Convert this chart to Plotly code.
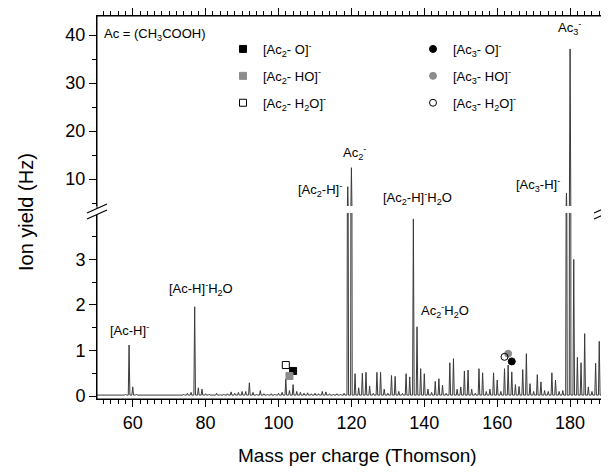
import plotly.graph_objects as go

# ---------------- data ----------------
mz = list(range(50, 190))
intensity = [
    0.03, 0.02, 0.03, 0.02, 0.03, 0.02, 0.03, 0.02, 0.04, 1.12,   # 50-59
    0.20, 0.04, 0.03, 0.02, 0.03, 0.02, 0.02, 0.03, 0.02, 0.03,   # 60-69
    0.02, 0.03, 0.02, 0.03, 0.04, 0.06, 0.08, 1.96, 0.18, 0.15,   # 70-79
    0.05, 0.04, 0.03, 0.06, 0.03, 0.04, 0.05, 0.09, 0.06, 0.08,   # 80-89
    0.10, 0.10, 0.29, 0.08, 0.04, 0.12, 0.05, 0.04, 0.05, 0.04,   # 90-99
    0.06, 0.08, 0.37, 0.12, 0.25, 0.10, 0.08, 0.06, 0.07, 0.05,   # 100-109
    0.06, 0.05, 0.10, 0.09, 0.05, 0.04, 0.05, 0.04, 0.06, 8.40,   # 110-119
    12.35, 0.49, 0.18, 0.50, 0.52, 0.22, 0.06, 0.52, 0.52, 0.15,  # 120-129
    0.06, 0.45, 0.43, 0.10, 0.06, 0.49, 0.42, 3.89, 1.52, 0.60,   # 130-139
    0.49, 0.15, 0.08, 0.32, 0.38, 0.24, 0.06, 0.73, 0.82, 0.15,   # 140-149
    0.20, 0.55, 0.57, 0.15, 0.06, 0.60, 0.51, 0.10, 0.15, 0.51,   # 150-159
    0.35, 0.10, 0.60, 0.68, 0.53, 0.25, 0.21, 0.58, 0.93, 0.27,   # 160-169
    0.10, 0.47, 0.31, 0.12, 0.10, 0.51, 0.35, 0.10, 0.12, 7.10,   # 170-179
    37.1, 3.00, 0.85, 0.73, 1.37, 0.20, 0.10, 0.72, 1.20, 0.25,   # 180-189
]
baseline = 0.02
peak_halfwidth = 0.22

# fragment markers
ac2_names = ["[Ac<sub>2</sub>- O]<sup>-</sup>", "[Ac<sub>2</sub>- HO]<sup>-</sup>", "[Ac<sub>2</sub>- H<sub>2</sub>O]<sup>-</sup>"]
ac2_mz = [104, 103, 102]
ac2_val = [0.55, 0.44, 0.68]
ac3_names = ["[Ac<sub>3</sub>- O]<sup>-</sup>", "[Ac<sub>3</sub>- HO]<sup>-</sup>", "[Ac<sub>3</sub>- H<sub>2</sub>O]<sup>-</sup>"]
ac3_mz = [164, 163, 162]
ac3_val = [0.76, 0.93, 0.86]

# peak labels: (text, label centre m/z, label centre value, axis)
labels = [
    ("[Ac-H]<sup>-</sup>", 59.0, 1.45, "y"),
    ("[Ac-H]<sup>-</sup>H<sub>2</sub>O", 78.7, 2.35, "y"),
    ("[Ac<sub>2</sub>-H]<sup>-</sup>", 111.3, 7.7, "y2"),
    ("Ac<sub>2</sub><sup>-</sup>", 120.8, 15.4, "y2"),
    ("[Ac<sub>2</sub>-H]<sup>-</sup>H<sub>2</sub>O", 138.2, 6.0, "y2"),
    ("Ac<sub>2</sub><sup>-</sup>H<sub>2</sub>O", 145.7, 1.87, "y"),
    ("[Ac<sub>3</sub>-H]<sup>-</sup>", 171.2, 8.75, "y2"),
    ("Ac<sub>3</sub><sup>-</sup>", 179.7, 41.5, "y2"),
]

# ---------------- geometry ----------------
OFF = 8                      # page body margin of the browser
W, H = 609 - OFF, 473 - OFF
ML, MR, MT, MB = 97 - OFF, 5, 16 - OFF, 74
PW, PH = W - ML - MR, H - MT - MB
def px2paper_x(px):          # screen pixel -> paper
    return (px - OFF - ML) / PW
def py2paper_y(py):
    return (H - MB - (py - OFF)) / PH

lower_top = py2paper_y(213)
upper_bot = py2paper_y(206)

# build stick spectrum line
sx, sy = [], []
for m, h in zip(mz, intensity):
    sx += [m - peak_halfwidth, m, m + peak_halfwidth]
    sy += [baseline, h, baseline]

fig = go.Figure()
line_style = dict(color="#3a3a3a", width=1)
fig.add_trace(go.Scatter(x=sx, y=sy, mode="lines", line=line_style,
                         showlegend=False, xaxis="x", yaxis="y", hoverinfo="skip"))
fig.add_trace(go.Scatter(x=sx, y=sy, mode="lines", line=line_style,
                         showlegend=False, xaxis="x2", yaxis="y2", hoverinfo="skip"))

sq_syms = ["square", "square", "square-open"]
ci_syms = ["circle", "circle", "circle-open"]
cols = ["black", "#8c8c8c", "black"]
for i in range(3):
    fig.add_trace(go.Scatter(x=[ac2_mz[i]], y=[ac2_val[i]], mode="markers",
                             marker=dict(symbol=sq_syms[i], size=7, color=cols[i],
                                         line=dict(width=1, color=cols[i])),
                             name=ac2_names[i], legend="legend", legendgroup="a%d" % i,
                             xaxis="x", yaxis="y"))
for i in range(3):
    fig.add_trace(go.Scatter(x=[ac3_mz[i]], y=[ac3_val[i]], mode="markers",
                             marker=dict(symbol=ci_syms[i], size=7, color=cols[i],
                                         line=dict(width=1, color=cols[i])),
                             name=ac3_names[i], legend="legend2", legendgroup="b%d" % i,
                             xaxis="x", yaxis="y"))

font = "Liberation Sans, Arial, sans-serif"
axcommon = dict(showgrid=False, zeroline=False, showline=True, linecolor="black",
                linewidth=1, ticks="outside", tickcolor="black", tickwidth=1,
                automargin=False)

xr = [50.2, 189.3]
fig.update_layout(
    width=W, height=H,
    margin=dict(l=ML, r=MR, t=MT, b=MB),
    paper_bgcolor="white", plot_bgcolor="white",
    font=dict(family=font, color="black"),
    xaxis=dict(domain=[0, 1], range=xr, anchor="y", side="bottom",
               dtick=20, tick0=0, ticklen=7,
               minor=dict(dtick=2, tick0=0, ticklen=4, ticks="outside", tickcolor="black"),
               tickfont=dict(size=18), **axcommon),
    xaxis2=dict(domain=[0, 1], range=xr, anchor="y2", side="top", matches="x",
                dtick=20, tick0=0, ticklen=7, showticklabels=False,
                minor=dict(dtick=2, tick0=0, ticklen=4, ticks="outside", tickcolor="black"),
                **axcommon),
    yaxis=dict(domain=[0, lower_top], range=[-0.066, 4.02], anchor="x",
               tickvals=[0, 1, 2, 3], ticklen=7, mirror="allticks",
               minor=dict(tickvals=[0.5, 1.5, 2.5, 3.5], ticklen=4, ticks="outside", tickcolor="black"),
               tickfont=dict(size=18), **axcommon),
    yaxis2=dict(domain=[upper_bot, 1], range=[4.375, 43.96], anchor="x2",
                tickvals=[10, 20, 30, 40], ticklen=7, mirror="allticks",
                minor=dict(tickvals=[5, 15, 25, 35], ticklen=4, ticks="outside", tickcolor="black"),
                tickfont=dict(size=18), **axcommon),
    legend=dict(x=px2paper_x(223), y=py2paper_y(34), xanchor="left", yanchor="top",
                bgcolor="rgba(0,0,0,0)", font=dict(size=13), tracegroupgap=7,
                itemsizing="trace"),
    legend2=dict(x=px2paper_x(413), y=py2paper_y(34), xanchor="left", yanchor="top",
                 bgcolor="rgba(0,0,0,0)", font=dict(size=13), tracegroupgap=7,
                 itemsizing="trace"),
)

ann = []
for text, m, v, ax in labels:
    ann.append(dict(x=m, y=v, xref="x" if ax == "y" else "x2", yref=ax, text=text,
                    showarrow=False, xanchor="center", yanchor="middle",
                    font=dict(size=13, family=font)))
ann.append(dict(x=px2paper_x(102), y=py2paper_y(34), xref="paper", yref="paper",
                text="Ac = (CH<sub>3</sub>COOH)", showarrow=False, xanchor="left",
                yanchor="middle", font=dict(size=13, family=font)))
ann.append(dict(x=px2paper_x(26), y=py2paper_y(212), xref="paper", yref="paper",
                text="Ion yield (Hz)", showarrow=False, textangle=-90,
                xanchor="center", yanchor="middle",
                font=dict(size=20, family=font)))
ann.append(dict(x=px2paper_x(357), y=py2paper_y(455), xref="paper", yref="paper",
                text="Mass per charge (Thomson)", showarrow=False,
                xanchor="center", yanchor="middle",
                font=dict(size=19, family=font)))
fig.update_layout(annotations=ann)

# frame (drawn explicitly) and axis break symbols
frame = dict(color="black", width=1)
shapes = [
    dict(type="line", xref="paper", yref="paper", x0=0, x1=0, y0=0, y1=1, line=frame),
    dict(type="line", xref="paper", yref="paper", x0=1, x1=1, y0=0, y1=1, line=frame),
    dict(type="line", xref="paper", yref="paper", x0=0, x1=1, y0=1, y1=1, line=frame),
    dict(type="line", xref="paper", yref="paper", x0=0, x1=1, y0=0, y1=0, line=frame),
]
for axpx in [97, 604]:
    x0, x1 = px2paper_x(axpx - 10), px2paper_x(axpx + 10)
    shapes.append(dict(type="path", xref="paper", yref="paper",
                       path="M %f %f L %f %f L %f %f L %f %f Z" % (
                           x0, py2paper_y(213), x1, py2paper_y(204),
                           x1, py2paper_y(210), x0, py2paper_y(219)),
                       fillcolor="white", line=dict(width=0)))
    for dy in (0, 6):
        shapes.append(dict(type="line", xref="paper", yref="paper",
                           x0=x0, y0=py2paper_y(213 + dy), x1=x1, y1=py2paper_y(204 + dy),
                           line=dict(color="black", width=1.2)))
fig.update_layout(shapes=shapes)

fig.write_html("out.html")
